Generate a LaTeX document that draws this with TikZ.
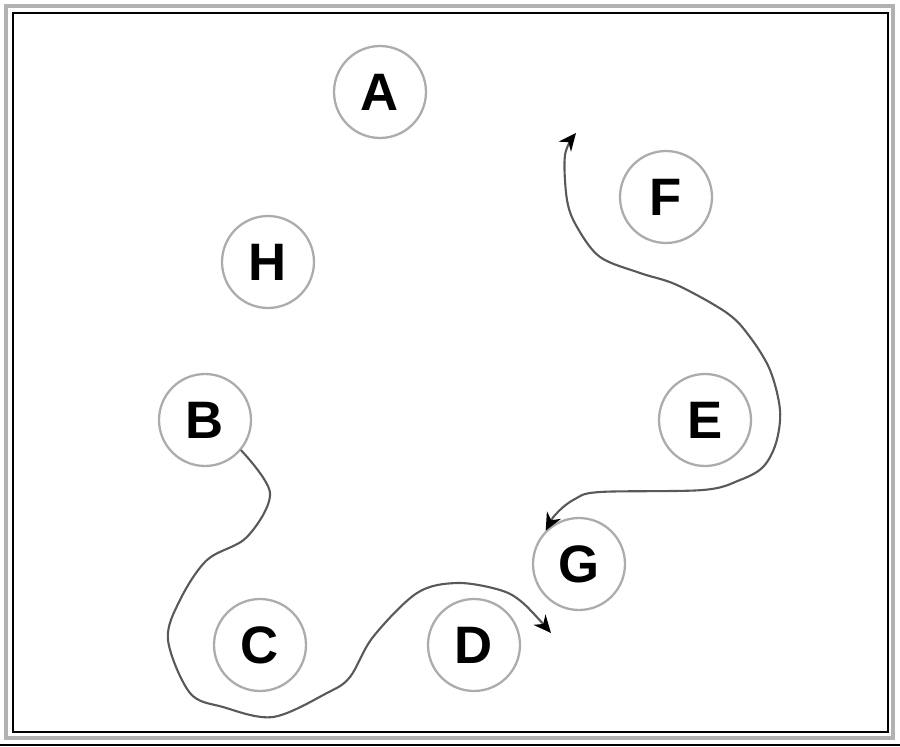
\documentclass[tikz,border=0pt]{standalone}
\usepackage{fontspec}
\newfontfamily\labfont{Liberation Sans}
\usetikzlibrary{arrows.meta}
\tikzset{
  spot/.style={circle, draw=gray!65, line width=1.3pt, minimum size=1.84cm, inner sep=0pt,
    font=\labfont\bfseries\fontsize{30}{30}\selectfont},
  route/.style={draw=gray!70!black, line width=1.2pt, line cap=round},
  tip/.tip={Stealth[length=10pt,width=9pt,black]}
}
\begin{document}
\begin{tikzpicture}[x=0.02cm,y=-0.02cm]
\useasboundingbox (0,0) rectangle (900,747);

% 边框
\draw[gray!60, line width=1.8pt] (6,6) rectangle (893,738);
\draw[line width=0.6pt] (13,13) rectangle (888,732);
\draw[line width=0.6pt] (0,745) -- (900,745);

% 各点
\node[spot] (A) at (380,92) {A};
\node[spot] (H) at (268,262) {H};
\node[spot] (F) at (666,197) {F};
\node[spot] (B) at (205,420) {B};
\node[spot] (E) at (705,420) {E};
\node[spot] (G) at (579,564) {G};
\node[spot] (C) at (260,645) {C};
\node[spot] (D) at (474,645) {D};

% 路线的端点
\coordinate (P) at (551,633);
\coordinate (Q) at (576,133);

% 路线 B -> C -> D
\draw[route, -tip] plot[smooth, tension=0.55] coordinates {(B.-40) (270,493) (247,537)
  (207,560) (180,600) (168,640) (190,693) (223,707) (273,717) (327,693) (350,677)
  (373,637) (417,593) (457,583) (500,590) (523,603) (P)};

% 路线 G -> E -> F
\draw[route, tip-tip] plot[smooth, tension=0.55] coordinates {(G.135)
  (557,513) (575,499) (600,492) (703,490) (740,480) (763,467) (776,443) (780,410)
  (770,370) (750,337) (727,313) (677,285) (640,273) (600,257) (577,227) (567,200)
  (565,155) (Q)};
\end{tikzpicture}
\end{document}
